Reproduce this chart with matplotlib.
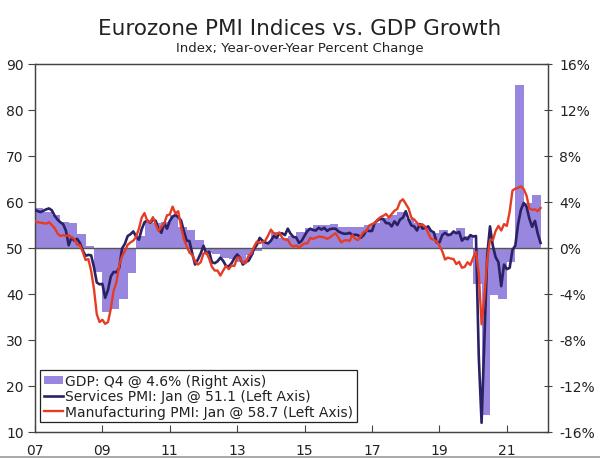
import numpy as np
import matplotlib
matplotlib.use("Agg")
import matplotlib.pyplot as plt
from matplotlib.ticker import FuncFormatter
from matplotlib.patches import Patch
from matplotlib.lines import Line2D

# quarterly real GDP, year-over-year % change, 2007Q1 - 2021Q4
gdp = [3.5, 3.1, 2.9, 2.3,
       2.2, 1.2, 0.2, -2.1,
       -5.6, -5.3, -4.4, -2.2,
       1.0, 2.3, 2.2, 2.3,
       2.9, 1.8, 1.6, 0.7,
       -0.4, -0.5, -0.9, -1.0,
       -1.2, -0.6, -0.3, 0.5,
       1.4, 0.9, 1.0, 1.4,
       1.7, 2.0, 2.0, 2.1,
       1.8, 1.8, 1.8, 2.0,
       2.2, 2.6, 2.9, 3.1,
       2.5, 2.2, 1.7, 1.3,
       1.6, 1.3, 1.7, 1.0,
       -3.1, -14.5, -4.1, -4.4,
       -1.2, 14.2, 3.9, 4.6]

# monthly PMIs, Jan 2007 - Jan 2022
services = [58.3, 58.0, 57.8, 58.1, 58.4, 58.6, 58.2, 57.0, 56.2, 55.6, 55.2, 53.8,
            50.6, 52.3, 51.6, 52.0, 51.1, 49.5, 48.3, 48.5, 48.4, 45.8, 42.5, 42.1,
            42.2, 39.2, 40.9, 43.8, 44.8, 44.7, 45.7, 49.9, 50.9, 52.6, 53.0, 53.6,
            52.5, 51.8, 54.1, 55.6, 56.0, 55.5, 56.2, 55.9, 54.1, 53.3, 55.4, 54.2,
            55.9, 56.8, 57.2, 56.7, 56.0, 53.7, 51.6, 51.5, 48.8, 46.4, 47.5, 48.8,
            50.5, 48.8, 49.2, 46.9, 46.7, 47.1, 47.9, 47.2, 46.1, 46.0, 46.7, 47.8,
            48.6, 47.9, 46.4, 47.0, 47.2, 48.3, 49.8, 50.7, 52.2, 51.6, 51.2, 51.0,
            51.6, 52.6, 52.2, 53.1, 53.2, 52.8, 54.2, 53.1, 52.4, 52.3, 51.1, 51.6,
            52.7, 53.7, 54.2, 53.9, 53.8, 54.4, 54.0, 54.4, 53.7, 54.1, 54.2, 54.2,
            53.6, 53.3, 53.1, 53.1, 53.3, 52.8, 52.9, 52.8, 52.2, 52.8, 53.8, 53.7,
            53.7, 55.5, 56.0, 56.4, 56.3, 55.4, 55.4, 54.7, 55.8, 55.0, 56.2, 56.6,
            58.0, 56.2, 54.9, 54.7, 53.8, 55.2, 54.2, 54.4, 54.7, 53.7, 53.4, 51.2,
            51.2, 52.8, 53.3, 52.8, 52.9, 53.6, 53.2, 53.5, 51.6, 52.2, 51.9, 52.8,
            52.5, 52.6, 26.4, 12.0, 30.5, 48.3, 54.7, 50.5, 48.0, 46.9, 41.7, 46.4,
            45.4, 45.7, 49.6, 50.5, 55.2, 58.3, 59.8, 59.0, 56.4, 54.6, 55.9, 53.1,
            51.1]

manufacturing = [55.8, 55.6, 55.5, 55.4, 55.3, 55.6, 55.0, 54.3, 53.2, 52.6, 52.8, 52.6,
                 52.8, 52.3, 52.0, 50.7, 50.6, 49.2, 47.4, 47.6, 45.0, 41.1, 35.6, 33.9,
                 34.4, 33.5, 33.9, 36.8, 40.7, 42.6, 46.3, 48.2, 49.3, 50.7, 51.2, 51.6,
                 52.4, 54.2, 56.6, 57.6, 55.8, 55.6, 56.7, 55.1, 53.7, 54.6, 55.3, 57.1,
                 57.3, 59.0, 57.5, 58.0, 54.6, 52.0, 50.4, 49.0, 48.5, 47.1, 46.4, 46.9,
                 48.8, 49.0, 47.7, 45.9, 45.1, 45.1, 44.0, 45.1, 46.1, 45.4, 46.2, 46.1,
                 47.9, 47.9, 46.8, 46.7, 48.3, 48.8, 50.3, 51.4, 51.1, 51.3, 51.6, 52.7,
                 54.0, 53.2, 53.0, 53.4, 52.2, 51.8, 51.8, 50.7, 50.3, 50.6, 50.1, 50.6,
                 51.0, 51.0, 52.2, 52.0, 52.2, 52.5, 52.4, 52.3, 52.0, 52.3, 52.8, 53.2,
                 52.3, 51.2, 51.6, 51.7, 51.5, 52.8, 52.0, 51.7, 52.6, 53.5, 53.7, 54.9,
                 55.2, 55.4, 56.2, 56.7, 57.0, 57.4, 56.6, 57.4, 58.1, 58.5, 60.1, 60.6,
                 59.6, 58.6, 56.6, 56.2, 55.5, 54.9, 55.1, 54.6, 53.2, 52.0, 51.8, 51.4,
                 50.5, 49.3, 47.5, 47.9, 47.7, 47.6, 46.5, 47.0, 45.7, 45.9, 46.9, 46.3,
                 47.9, 49.2, 44.5, 33.4, 39.4, 47.4, 51.8, 51.7, 53.7, 54.8, 53.8, 55.2,
                 54.8, 57.9, 62.5, 62.9, 63.1, 63.4, 62.8, 61.4, 58.6, 58.3, 58.4, 58.0,
                 58.7]

x_ticks = [2007, 2009, 2011, 2013, 2015, 2017, 2019, 2021]
x_labels = ["07", "09", "11", "13", "15", "17", "19", "21"]
left_ticks = [10, 20, 30, 40, 50, 60, 70, 80, 90]
right_ticks = [-16, -12, -8, -4, 0, 4, 8, 12, 16]

labels = ["GDP: Q4 @ 4.6% (Right Axis)",
          "Services PMI: Jan @ 51.1 (Left Axis)",
          "Manufacturing PMI: Jan @ 58.7 (Left Axis)"]

BAR = "#9987DF"
NAVY = "#2B2165"
RED = "#E63C24"
TXT = "#222222"
SPINE = "#444444"

q_x = 2007 + np.arange(len(gdp)) / 4
m_x = 2007 + np.arange(len(services)) / 12

fig = plt.figure(figsize=(6, 4.6), dpi=100)
ax = fig.add_axes([0.0583, 0.0587, 0.855, 0.80])
ax2 = ax.twinx()

# GDP bars on the right axis, drawn behind the PMI lines
ax2.bar(q_x, gdp, width=0.25, align="edge", color=BAR, linewidth=0)
ax.set_zorder(ax2.get_zorder() + 1)
ax.patch.set_visible(False)

ax.axhline(50, color="#555555", lw=1.0, zorder=1)
ax.plot(m_x, services, color=NAVY, lw=1.9, zorder=3)
ax.plot(m_x, manufacturing, color=RED, lw=1.7, zorder=4)

ax.set_xlim(2007, 2022.22)
ax.set_ylim(10, 90)
ax2.set_ylim(-16, 16)
ax.set_yticks(left_ticks)
ax2.set_yticks(right_ticks)
ax2.yaxis.set_major_formatter(FuncFormatter(lambda v, p: f"{v:.0f}%"))
ax.set_xticks(x_ticks)
ax.set_xticklabels(x_labels)

ax.tick_params(axis="y", direction="out", length=5, width=0.8, colors=SPINE,
               labelcolor=TXT, labelsize=10, pad=3)
ax.tick_params(axis="x", direction="in", length=5, width=0.8, colors=SPINE,
               labelcolor=TXT, labelsize=10, pad=8)
ax2.tick_params(axis="y", direction="inout", length=6, width=0.8, colors=SPINE,
                labelcolor=TXT, labelsize=10, pad=5)
for a in (ax, ax2):
    for s in a.spines.values():
        s.set_color(SPINE)
        s.set_linewidth(0.9)

handles = [Patch(facecolor=BAR, edgecolor="none"),
           Line2D([], [], color=NAVY, lw=1.9),
           Line2D([], [], color=RED, lw=1.7)]
leg = ax.legend(handles, labels, loc="lower left", bbox_to_anchor=(0.01, 0.027),
                borderaxespad=0, fontsize=10, frameon=True, fancybox=False,
                handlelength=1.4, handleheight=0.6, handletextpad=0.15,
                labelspacing=0.1, borderpad=0.25, framealpha=1)
leg.get_frame().set_edgecolor("#222222")
leg.get_frame().set_linewidth(0.9)
for t in leg.get_texts():
    t.set_color(TXT)

fig.text(0.5, 0.938, "Eurozone PMI Indices vs. GDP Growth", ha="center", va="center",
         fontsize=15.5, color=TXT)
fig.text(0.5, 0.895, "Index; Year-over-Year Percent Change", ha="center", va="center",
         fontsize=9.5, color=TXT)

# thin grey frame lines at the very top and bottom
fig.add_artist(Line2D([0, 1], [0.999, 0.999], transform=fig.transFigure, color="#999999", lw=1.2))
fig.add_artist(Line2D([0, 1], [0.004, 0.004], transform=fig.transFigure, color="#999999", lw=1.2))

fig.savefig("out.png", dpi=100)
